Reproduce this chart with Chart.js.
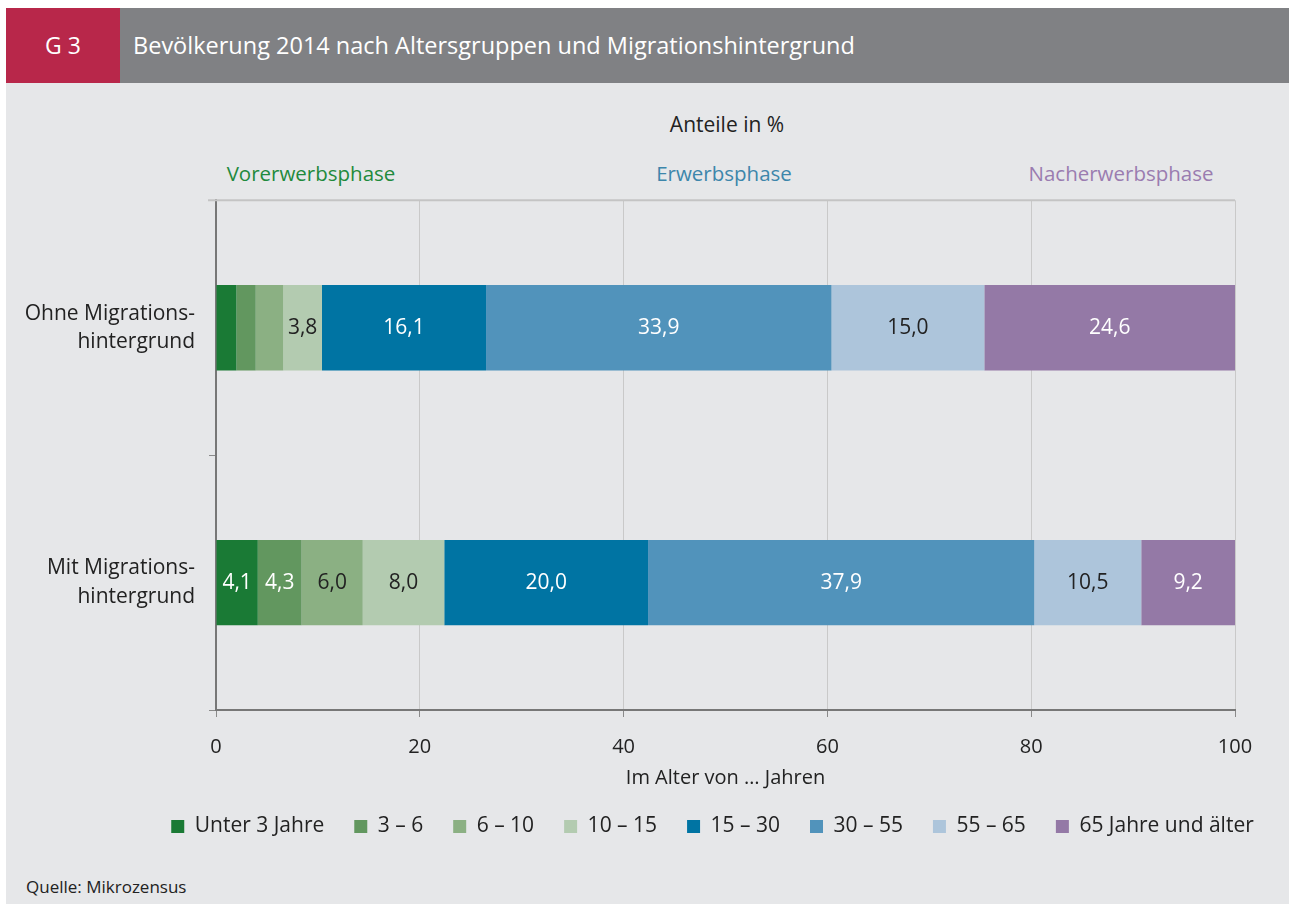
<!DOCTYPE html>
<html>
<head><meta charset="utf-8"><title>Bevölkerung 2014</title>
<script src="https://cdn.jsdelivr.net/npm/chart.js"></script>
<style>
  body{margin:0;background:#fff;font-family:"Open Sans",sans-serif;width:1289px;height:904px;overflow:hidden;position:relative;}
  #panel{position:absolute;left:6px;top:8px;width:1283px;height:896px;background:#e6e7e9;}
  #head{position:absolute;left:0;top:0;width:1283px;height:75px;background:#808184;}
  #num{position:absolute;left:0;top:0;width:114px;height:75px;background:#b8274a;color:#fff;font-size:23px;line-height:75px;text-align:center;}
  #title{position:absolute;left:127px;top:0;line-height:75px;color:#fff;font-size:23.5px;}
  .t{position:absolute;font-size:20.5px;transform:translateX(-50%);white-space:nowrap;}
  #src{position:absolute;left:20px;top:867px;font-size:17px;color:#222;}
  #wrap{position:absolute;left:0;top:150px;width:1283px;height:689px;}
</style>
</head>
<body>
<div id="panel">
  <div id="head"><div id="num">G 3</div><div id="title">Bevölkerung 2014 nach Altersgruppen und Migrationshintergrund</div></div>
  <div class="t" style="left:721px;top:102px;color:#222;font-size:21px">Anteile in %</div>
  <div class="t" style="left:305px;top:151px;color:#1f8a3c">Vorerwerbsphase</div>
  <div class="t" style="left:718px;top:151px;color:#3d86ab">Erwerbsphase</div>
  <div class="t" style="left:1115px;top:151px;color:#9a7cb0">Nacherwerbsphase</div>
  <div id="wrap"><canvas id="c"></canvas></div>
  <div id="src">Quelle: Mikrozensus</div>
</div>
<script>
const groups = [["Ohne Migrations-", "hintergrund"], ["Mit Migrations-", "hintergrund"]];
const ageLabels = ["Unter 3 Jahre", "3 – 6", "6 – 10", "10 – 15", "15 – 30", "30 – 55", "55 – 65", "65 Jahre und älter"];
const unter3 = [2.0, 4.1];
const a3to6 = [1.9, 4.3];
const a6to10 = [2.7, 6.0];
const a10to15 = [3.8, 8.0];
const a15to30 = [16.1, 20.0];
const a30to55 = [33.9, 37.9];
const a55to65 = [15.0, 10.5];
const a65plus = [24.6, 9.2];
const xTicks = [0, 20, 40, 60, 80, 100];

const series = [unter3, a3to6, a6to10, a10to15, a15to30, a30to55, a55to65, a65plus];
const colors = ['#1a7a35', '#62975f', '#8bb083', '#b3cbb0', '#0074a3', '#5193bb', '#adc5db', '#9479a6'];
const labelColors = ['#fff', '#fff', '#222', '#222', '#fff', '#fff', '#222', '#fff'];

// Werte in die Balken schreiben
const barLabels = {
  id: 'barLabels',
  afterLayout(chart) {
    // Legende wie im Original etwas nach rechts
    chart.legend.left += 92;
    chart.legend.right += 92;
  },
  afterDatasetsDraw(chart) {
    const ctx = chart.ctx;
    ctx.save();
    ctx.font = '21px "Open Sans"';
    ctx.textAlign = 'center';
    ctx.textBaseline = 'middle';
    chart.data.datasets.forEach((ds, i) => {
      chart.getDatasetMeta(i).data.forEach((bar, j) => {
        const v = ds.data[j];
        if (v < 3) return;
        ctx.fillStyle = labelColors[i];
        ctx.fillText(v.toFixed(1).replace('.', ','), (bar.x + bar.base) / 2, bar.y);
      });
    });
    // obere Rahmenlinie
    const a = chart.chartArea;
    ctx.strokeStyle = '#c4c4c4';
    ctx.lineWidth = 2;
    ctx.beginPath();
    ctx.moveTo(a.left - 8, a.top);
    ctx.lineTo(a.right, a.top);
    ctx.stroke();
    ctx.restore();
  }
};

new Chart(document.getElementById('c'), {
  type: 'bar',
  data: {
    labels: groups,
    datasets: series.map((d, i) => ({
      label: ageLabels[i], data: d, backgroundColor: colors[i],
      categoryPercentage: 1, barPercentage: 0.335
    }))
  },
  options: {
    indexAxis: 'y',
    responsive: true, maintainAspectRatio: false, animation: false,
    layout: { padding: { top: 18, right: 54, left: 0, bottom: 0 } },
    plugins: {
      tooltip: { enabled: false },
      legend: {
        position: 'bottom',
        labels: { color: '#222', font: { size: 21, family: 'Open Sans' }, boxWidth: 13, boxHeight: 13, padding: 30 }
      }
    },
    scales: {
      x: {
        stacked: true, min: 0, max: 100,
        afterBuildTicks: s => { s.ticks = xTicks.map(v => ({ value: v })); },
        ticks: { color: '#222', font: { size: 20, family: 'Open Sans' }, padding: 18 },
        grid: { color: '#c9c9c9', lineWidth: 1, tickLength: 7, tickColor: '#8a8a8a' },
        border: { color: '#777', width: 2 },
        title: { display: true, text: 'Im Alter von … Jahren', color: '#222', font: { size: 20, family: 'Open Sans' }, padding: { top: 0, bottom: -4 } },
        afterFit: s => { s.height = 76; }
      },
      y: {
        stacked: true,
        ticks: { color: '#222', font: { size: 21, family: 'Open Sans', lineHeight: 1.35 }, padding: 14 },
        grid: { drawOnChartArea: false, tickLength: 7, color: '#8a8a8a', offset: true },
        border: { color: '#777', width: 2 },
        afterFit: s => { s.width = 210; }
      }
    }
  },
  plugins: [barLabels]
});
</script>
</body>
</html>
